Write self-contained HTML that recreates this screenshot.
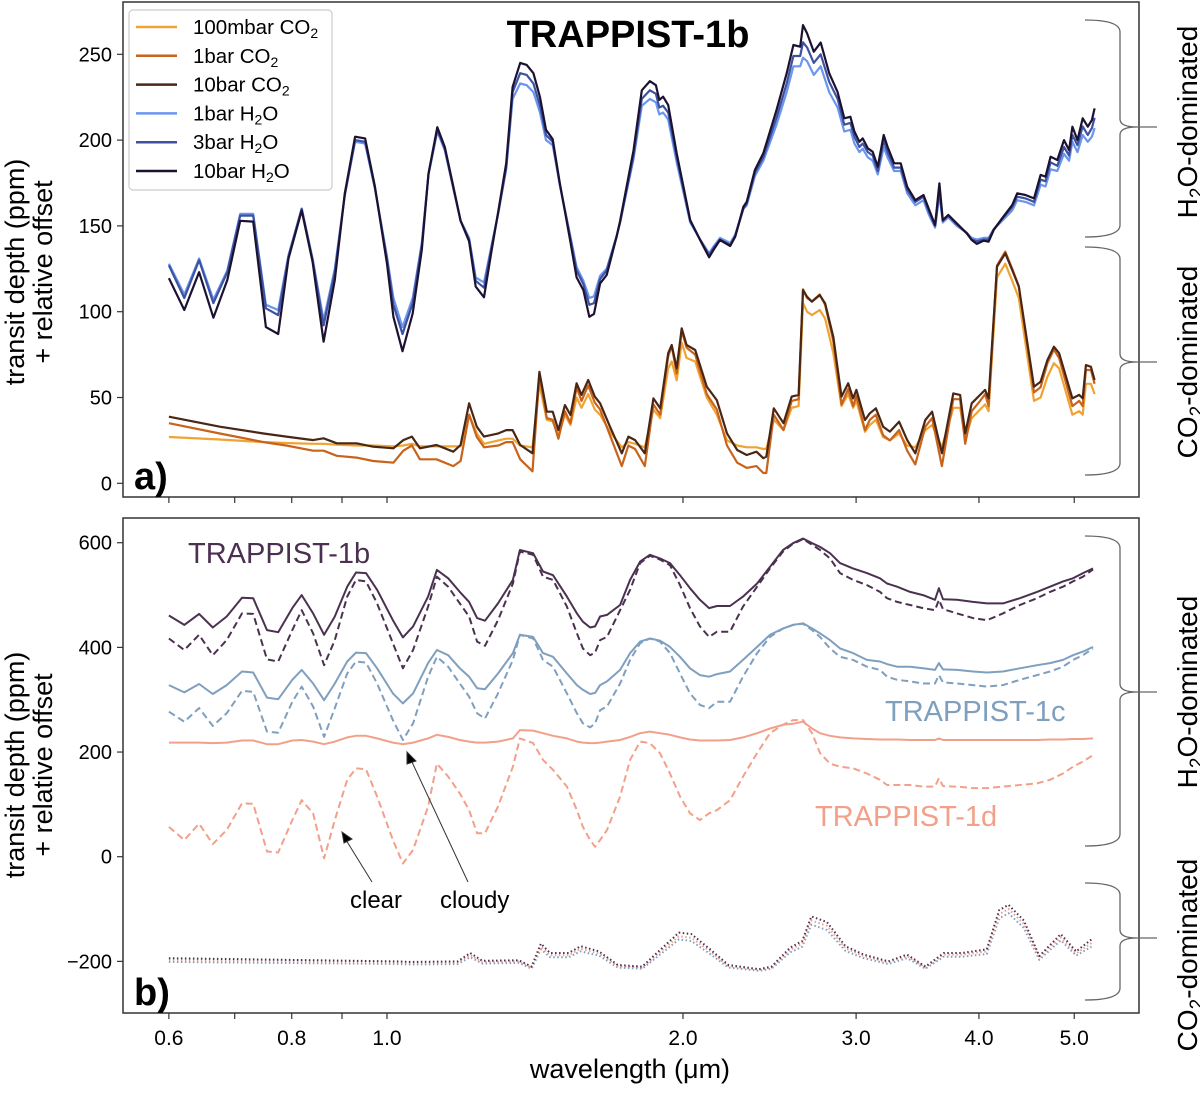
<!DOCTYPE html>
<html><head><meta charset="utf-8">
<style>
html,body{margin:0;padding:0;background:#fff;}
svg{display:block;font-family:"Liberation Sans",Arial,sans-serif;}
</style></head>
<body>
<svg id="chart" width="1200" height="1095" viewBox="0 0 1200 1095" xmlns="http://www.w3.org/2000/svg">
<rect x="0" y="0" width="1200" height="1095" fill="#fff"/>
<g id="plots"></g>
<g id="frames" fill="none" stroke="#333" stroke-width="1.5">
  <rect x="123" y="2" width="1016" height="495"/>
  <rect x="123" y="518" width="1016" height="495"/>
</g>
<g id="axes"></g>
<text x="628" y="47" text-anchor="middle" font-size="38" font-weight="bold">TRAPPIST-1b</text>
<text x="134" y="489" font-size="38" font-weight="bold">a)</text>
<text x="134" y="1005" font-size="38" font-weight="bold">b)</text>
<g font-size="27" text-anchor="middle">
  <text transform="translate(24,272) rotate(-90)">transit depth (ppm)</text>
  <text transform="translate(52,272) rotate(-90)">+ relative offset</text>
  <text transform="translate(24,765) rotate(-90)">transit depth (ppm)</text>
  <text transform="translate(52,765) rotate(-90)">+ relative offset</text>
  <text x="630" y="1078">wavelength (μm)</text>
</g>
<g font-size="28" text-anchor="middle">
  <text transform="translate(1197,122) rotate(-90)">H<tspan font-size="19" dy="6">2</tspan><tspan dy="-6">O-dominated</tspan></text>
  <text transform="translate(1197,362) rotate(-90)">CO<tspan font-size="19" dy="6">2</tspan><tspan dy="-6">-dominated</tspan></text>
  <text transform="translate(1197,692) rotate(-90)">H<tspan font-size="19" dy="6">2</tspan><tspan dy="-6">O-dominated</tspan></text>
  <text transform="translate(1197,955) rotate(-90)">CO<tspan font-size="19" dy="6">2</tspan><tspan dy="-6">-dominated</tspan></text>
</g>
<g id="braces" fill="none" stroke="#666" stroke-width="1.3"></g>
<g id="legend">
  <rect x="129" y="10" width="203" height="180" rx="4" fill="#fff" fill-opacity="0.9" stroke="#ccc" stroke-width="1.2"/>
</g>
<g font-size="29">
  <text x="188" y="563" fill="#4b3150">TRAPPIST-1b</text>
  <text x="885" y="721" fill="#7f9fbf">TRAPPIST-1c</text>
  <text x="815" y="826" fill="#f2a08a">TRAPPIST-1d</text>
</g>
<g font-size="24">
  <text x="350" y="908">clear</text>
  <text x="440" y="908">cloudy</text>
</g>
<g stroke="#333" stroke-width="1">
  <line x1="372" y1="882" x2="346" y2="840"/>
  <polygon points="342,832 352,839 344,843" fill="#000"/>
  <line x1="468" y1="882" x2="412" y2="762"/>
  <polygon points="407,752 416,761 407,764" fill="#000"/>
</g>
<script>
// ---------- Panel a data ----------
const wlH = [0.600,0.622,0.644,0.666,0.688,0.709,0.731,0.753,0.775,0.794,0.819,0.840,0.862,0.885,0.906,0.928,0.950,0.972,1.000,1.015,1.037,1.062,1.085,1.102,1.125,1.145,1.168,1.188,1.212,1.231,1.255,1.278,1.298,1.322,1.342,1.366,1.387,1.409,1.431,1.451,1.474,1.499,1.535,1.559,1.584,1.606,1.624,1.647,1.673,1.712,
1.726,1.781,1.816,1.851,1.877,1.892,1.909,1.932,1.971,2.034,2.082,2.126,2.148,2.181,2.234,2.260,2.304,2.322,2.367,2.414,2.490,2.550,2.590,2.632,2.649,2.675,2.717,2.761,2.817,2.873,2.918,2.960,2.988,3.023,3.047,3.083,3.119,3.156,3.200,3.229,3.279,3.330,3.381,3.446,3.513,3.554,3.610,3.646,3.675,3.723,3.797,3.887,3.933,3.980,4.043,4.091,4.141,4.223,4.324,4.375,4.461,4.550,4.621,4.675,4.731,4.806,4.882,4.940,4.979,5.039,5.100,5.161,5.211,5.244];
const h2o10 = [119.5,101,123,96.5,118.5,153,152.5,91,87,131,159,129,82.5,118.5,169,202,201,173,128,97,77,99,136,180.6,207.5,196,173,153,141,114.6,108.4,136,159,186.5,231,245,243.8,239,225,206,200.5,175,142,120,112.6,97,98.7,116.5,121.4,143.7,
153,194,229,234.4,232,223.4,225.3,220.4,192.3,153.4,141.8,131.7,136,141.8,138.3,143.7,161.2,164,182.6,192.3,217.5,239,255.4,254.4,267,262.2,251.5,256.8,239,228,212.7,213.6,205,199,201,195.2,193.2,184.5,203,196.2,186.5,186.5,172.8,165,168,160.3,150.5,174.8,153.4,156.4,151.5,145.7,141.8,139.5,141.4,140.8,147.6,154.4,162.2,169,168,166,179.7,178.7,190.3,188.4,200,194.2,207.8,200,212.7,207.8,211.7,218.5];
const h2o3 = [127,108,130,105,123,156,156,102,98,132,160,130,92,123,168,200,199,172,131,104,87,105,139,180,206,195,172,153,142,118,114,138,158,184,228,239,238,233,220,203,199,174,144,124,116,104,105,119,124,144,
152,191,224,229,227,219,220,216,190,153,142,133,137,142,139,144,160,163,181,190,213,233,249,249,257,254,245,250,234,224,209,210,202,196,198,193,191,182,200,193,184,184,171,164,167,159,150,171,153,156,151,146,142,141,142,142,148,154,161,167,166,164,177,176,187,185,196,191,203,197,208,203,207,213];
const h2o1 = [128,110,131,107,124,157,157,104,101,133,160,131,95,125,168,199,198,172,132,108,91,108,140,180,205,194,172,153,143,120,117,139,158,183,224,233,232,228,216,200,197,174,145,126,118,108,109,121,125,144,
152,189,220,224,222,215,216,212,187,152,142,134,138,143,140,145,160,162,179,188,209,228,243,243,248,246,238,243,228,219,205,206,198,193,195,190,188,180,196,190,182,182,169,162,165,157,149,168,152,155,150,146,143,142,143,143,148,153,159,165,164,162,174,173,183,182,192,188,199,193,203,199,202,207];
const wlC = [0.600,0.676,0.749,0.790,0.841,0.862,0.889,0.931,0.968,1.015,1.039,1.060,1.080,1.123,1.168,1.188,1.212,1.234,1.255,1.298,1.322,1.342,1.366,1.406,1.429,1.454,1.474,1.494,1.517,1.537,1.559,1.577,1.602,1.627,1.647,1.686,1.733,1.760,1.788,
1.829,1.866,1.896,1.932,1.948,1.971,1.994,2.017,2.058,2.115,2.165,2.217,2.271,2.322,2.376,2.414,2.431,2.474,2.531,2.580,2.622,2.649,2.675,2.705,2.755,2.790,2.844,2.899,2.945,2.979,3.002,3.063,3.098,3.142,3.196,3.247,3.318,3.381,3.446,3.528,3.584,3.668,3.767,3.827,3.873,3.933,4.011,4.058,4.091,4.173,4.255,4.324,4.391,4.550,4.621,4.695,4.768,4.826,4.979,5.059,5.100,5.138,5.199,5.244];
const co2_10 = [38.8,33,29,27.2,25.2,26.2,23.3,23.3,21.3,20.4,25.2,27.2,20.4,22.3,18.4,22.3,46.6,33,27.2,29.1,31,31,22.3,17.5,65,41.7,41.7,31,45.6,39.8,58.3,51.5,60.2,50.5,46.6,33,17.5,27.2,25.2,
17.5,49.5,43.7,75.8,80.6,67,90.3,80.6,77.7,56.3,48.5,29.1,19.4,16.5,18.4,14.6,15.5,43.7,35,50.5,51.5,112.6,108.7,105.8,109.7,104.9,85.4,50.5,58.3,49.5,54.4,36.9,40.8,43.7,33,30.1,35.9,25.2,17.5,36.9,41.7,17.5,52.4,51.5,29.1,46.6,51.5,54.4,49.5,126.2,134,124.3,114.6,56.3,59.2,71.8,79.6,75.8,49.5,51.5,49.5,68.9,67.9,60.2];
const co2_1 = [35,29,24,22,19,19,16,15,13,12,19,22,14,14,10,13,40,27,21,22,24,24,14,7,63,38,37,26,42,35,56,48,57,47,43,28,10,22,20,
10,46,40,74,80,64,89,79,75,52,43,22,12,9,10,6,6,40,31,48,49,113,108,106,110,104,83,46,55,45,51,31,37,40,28,25,31,19,11,33,38,10,49,49,23,42,48,52,45,127,135,125,115,53,56,70,78,73,45,48,45,66,66,58];
const co2_01 = [27,25.5,24,23.5,23,23,22.5,22,22,21.5,22,23,21.5,21.5,21.5,21.5,40,29,23,25,26,26,22,21,58,37,36,28,40,34,50,44,52,43,40,30,21,24,23,
21,43,38,67,71,60,82,73,71,50,40,25,22,21,21,20,20,37,31,44,45,105,100,98,101,96,76,45,52,44,48,30,34,37,27,25,29,22,21,31,34,21,44,44,26,38,43,46,42,120,128,118,108,48,50,62,70,67,40,42,40,58,58,52];
// ---------- Panel b data ----------
const wlB = [0.600,0.622,0.644,0.665,0.687,0.712,0.731,0.755,0.775,0.801,0.819,0.841,0.863,0.885,0.911,0.930,0.952,0.977,1.014,1.038,1.063,1.101,1.124,1.154,1.186,1.212,1.235,1.258,1.297,1.343,1.365,1.408,1.441,1.475,1.524,1.560,1.582,1.609,1.628,1.647,1.674,
1.726,1.767,1.809,1.851,1.895,1.940,1.986,2.033,2.081,2.126,2.166,2.233,2.302,2.379,2.452,2.528,2.588,2.649,2.706,2.757,2.822,2.889,2.978,3.077,3.173,3.225,3.302,3.404,3.509,3.609,3.642,3.677,3.800,3.945,4.076,4.232,4.403,4.583,4.724,4.870,4.986,5.104,5.225];
const bClear = [461,443,464,438,459,495,494,433,429,475,500,465,424,459,516,543,542,510,452,419,440,497,548,532,506,487,456,451,484,529,586,580,545,538,497,465,449,438,440,459,462,
481,529,564,577,570,561,538,513,491,475,479,479,497,522,554,586,599,608,599,592,580,561,551,542,532,522,516,506,500,491,513,492,491,487,484,484,494,506,516,526,532,542,551];
const bCloudy = [417,395,424,385,414,465,464,377,373,433,471,427,366,414,497,529,526,484,408,360,395,478,535,516,484,459,411,403,452,522,583,577,535,529,478,427,398,385,390,414,420,
471,510,561,575,568,557,519,475,440,420,430,430,478,516,551,583,598,607,596,586,570,542,529,519,506,494,487,481,475,471,491,473,465,456,452,465,481,494,506,516,526,535,549];
const cClear = [328,314,330,311,328,354,352,304,301,338,357,331,299,331,373,390,389,360,312,293,312,370,395,385,360,344,322,320,350,389,424,420,389,382,350,328,319,311,313,328,335,
357,389,411,417,413,401,382,360,347,344,349,354,376,401,424,436,443,446,436,427,414,398,389,376,373,368,363,363,360,357,370,358,357,354,352,354,360,366,370,376,385,392,401];
const cCloudy = [277,258,284,250,274,317,315,239,237,296,325,287,229,284,350,373,371,331,261,223,255,344,382,363,331,306,274,264,312,376,424,417,376,363,312,274,255,247,255,280,287,
331,376,408,417,411,389,350,312,290,284,296,296,344,389,420,436,443,445,433,420,398,382,376,363,357,344,338,335,331,331,347,333,331,328,325,328,338,347,354,363,376,385,398];
const dFlat = [218,218,218,217,218,222,222,215,215,222,223,220,215,220,228,231,231,226,218,215,218,226,233,229,223,220,218,218,220,226,242,241,236,231,226,220,218,217,217,218,220,
223,229,236,239,236,233,228,224,222,222,222,223,228,236,245,252,254,258,245,236,231,228,226,225,224,224,224,223,223,223,226,223,223,223,223,223,223,223,224,224,225,225,226];
const dClear = [57,32,63,24,51,102,101,10,8,70,108,83,-3,70,147,169,167,115,32,-13,13,96,178,153,121,89,45,45,96,172,226,217,185,166,134,89,57,32,19,32,51,
115,185,220,217,198,159,115,83,70,83,89,108,153,198,236,252,261,261,236,198,178,172,169,159,147,137,137,137,134,134,150,135,134,131,131,134,137,140,147,159,172,182,194];
const wlD = [0.600,1.021,1.059,1.180,1.215,1.250,1.362,1.403,1.434,1.465,1.530,1.574,1.643,1.717,1.818,1.899,1.981,2.040,2.131,2.225,2.390,2.461,2.570,2.645,2.702,2.802,2.926,3.054,3.236,3.380,3.529,3.684,3.846,4.074,4.194,4.287,4.443,4.607,4.845,5.023,5.206];
const co2B = [-194,-200,-201,-200,-184,-199,-198,-210,-166,-184,-184,-171,-181,-207,-210,-177,-145,-148,-177,-207,-215,-210,-174,-161,-114,-125,-171,-187,-200,-187,-210,-184,-184,-177,-102,-92,-122,-190,-148,-181,-158];
const co2D = [-197,-202,-203,-202,-188,-201,-200,-212,-172,-188,-188,-176,-185,-209,-212,-181,-152,-155,-181,-209,-216,-212,-178,-166,-122,-132,-175,-190,-202,-190,-212,-187,-187,-181,-110,-100,-128,-193,-154,-185,-165];
const co2C = [-201,-205,-206,-205,-192,-204,-203,-214,-177,-192,-192,-181,-189,-212,-214,-186,-158,-161,-186,-212,-218,-214,-183,-172,-130,-140,-180,-194,-205,-194,-214,-191,-191,-186,-118,-108,-136,-197,-160,-189,-172];
// ---------- Axis ticks ----------
const xTicks = [0.6,0.7,0.8,0.9,1.0,2.0,3.0,4.0,5.0];
const xTickLabels = ["0.6","","0.8","","1.0","2.0","3.0","4.0","5.0"];
const yTicksA = [0,50,100,150,200,250];
const yTicksB = [-200,0,200,400,600];
const yTickLabelsB = ["\u2212200","0","200","400","600"];

const NS = "http://www.w3.org/2000/svg";
const xs = w => 387 + 427 * Math.log(w);
const yA = v => 483.3 - 1.716 * v;
const yB = v => 856.7 - 0.5233 * v;
const plots = document.getElementById('plots');
const axes = document.getElementById('axes');

function line(wl, vals, ys, color, width, dash, name) {
  const p = document.createElementNS(NS, 'path');
  let d = '';
  for (let i = 0; i < wl.length; i++) d += (i ? 'L' : 'M') + xs(wl[i]).toFixed(1) + ',' + ys(vals[i]).toFixed(1);
  p.setAttribute('d', d);
  p.setAttribute('fill', 'none');
  p.setAttribute('stroke', color);
  p.setAttribute('stroke-width', width);
  p.setAttribute('stroke-linejoin', 'round');
  if (dash) p.setAttribute('stroke-dasharray', dash);
  
  
  plots.appendChild(p);
}
const C = {c01:'#f0a232', c1:'#c8631c', c10:'#4a2614', h1:'#6a96ee', h3:'#3e52a2', h10:'#1c1130', b:'#4b3150', c:'#7f9fbf', d:'#f2a08a'};
line(wlC, co2_01, yA, C.c01, 2.2, null, 'series-100mbar-co2');
line(wlC, co2_1, yA, C.c1, 2.2, null, 'series-1bar-co2');
line(wlC, co2_10, yA, C.c10, 2.2, null, 'series-10bar-co2');
line(wlH, h2o1, yA, C.h1, 2.2, null, 'series-1bar-h2o');
line(wlH, h2o3, yA, C.h3, 2.2, null, 'series-3bar-h2o');
line(wlH, h2o10, yA, C.h10, 2.2, null, 'series-10bar-h2o');
line(wlB, bClear, yB, C.b, 2, null, 'trappist-1b-cloudy');
line(wlB, bCloudy, yB, C.b, 2, '7,4', 'trappist-1b-clear');
line(wlB, cClear, yB, C.c, 2, null, 'trappist-1c-cloudy');
line(wlB, cCloudy, yB, C.c, 2, '7,4', 'trappist-1c-clear');
line(wlB, dFlat, yB, C.d, 2, null, 'trappist-1d-cloudy');
line(wlB, dClear, yB, C.d, 2, '7,4', 'trappist-1d-clear');
line(wlD, co2C, yB, C.c, 2, '1.5,2.5', 'trappist-1c-co2');
line(wlD, co2D, yB, C.d, 2, '1.5,2.5', 'trappist-1d-co2');
line(wlD, co2B, yB, C.b, 2, '1.5,2.5', 'trappist-1b-co2');

function mk(tag, attrs, parent, text) {
  const e = document.createElementNS(NS, tag);
  for (const k in attrs) e.setAttribute(k, attrs[k]);
  if (text !== undefined) e.textContent = text;
  parent.appendChild(e);
  return e;
}
xTicks.forEach((t, i) => {
  const x = xs(t);
  const ta = mk('line', {x1:x, x2:x, y1:497, y2:503, stroke:'#333', 'stroke-width':1.2}, axes);
  
  
  const tb = mk('line', {x1:x, x2:x, y1:1013, y2:1019, stroke:'#333', 'stroke-width':1.2}, axes);
  
  
  if (xTickLabels[i]) {
    const lb = mk('text', {x:x, y:1045, 'text-anchor':'middle', 'font-size':21}, axes, xTickLabels[i]);
    
    
  }
});
yTicksA.forEach(t => {
  const y = yA(t);
  const tk = mk('line', {x1:117, x2:123, y1:y, y2:y, stroke:'#333', 'stroke-width':1.2}, axes);
  
  
  const lb = mk('text', {x:112, y:y+7, 'text-anchor':'end', 'font-size':20}, axes, String(t));
  
  
});
yTicksB.forEach((t, i) => {
  const y = yB(t);
  const tk = mk('line', {x1:117, x2:123, y1:y, y2:y, stroke:'#333', 'stroke-width':1.2}, axes);
  
  
  const lb = mk('text', {x:112, y:y+7, 'text-anchor':'end', 'font-size':20}, axes, yTickLabelsB[i]);
  
  
});
// braces
const braces = document.getElementById('braces');
function brace(y0, ym, y1, name) {
  const x0 = 1085, xv = 1120, xt = 1157;
  const d = `M${x0},${y0} Q${xv},${y0} ${xv},${y0+12} L${xv},${ym-8} Q${xv},${ym} ${xt-20},${ym} L${xt},${ym} M${xt-20},${ym} Q${xv},${ym} ${xv},${ym+8} L${xv},${y1-12} Q${xv},${y1} ${x0},${y1}`;
  const p = mk('path', {d:d}, braces);
  
  
}
brace(20, 127, 237, 'brace-h2o-a');
brace(247, 362, 475, 'brace-co2-a');
brace(536, 692, 846, 'brace-h2o-b');
brace(883, 938, 1000, 'brace-co2-b');
// legend
const legend = document.getElementById('legend');
const legItems = [[C.c01,'100mbar CO','2',''],[C.c1,'1bar CO','2',''],[C.c10,'10bar CO','2',''],[C.h1,'1bar H','2','O'],[C.h3,'3bar H','2','O'],[C.h10,'10bar H','2','O']];
legItems.forEach((it, i) => {
  const y = 27 + i * 28.8;
  const l = mk('line', {x1:136, x2:177, y1:y, y2:y, stroke:it[0], 'stroke-width':2.5}, legend);
  
  
  const t = mk('text', {x:193, y:y+7, 'font-size':20.5}, legend, it[1]);
  
  
  mk('tspan', {'font-size':14, dy:4}, t, it[2]);
  if (it[3]) mk('tspan', {dy:-4}, t, it[3]);
});
</script>
</svg>
</body></html>
